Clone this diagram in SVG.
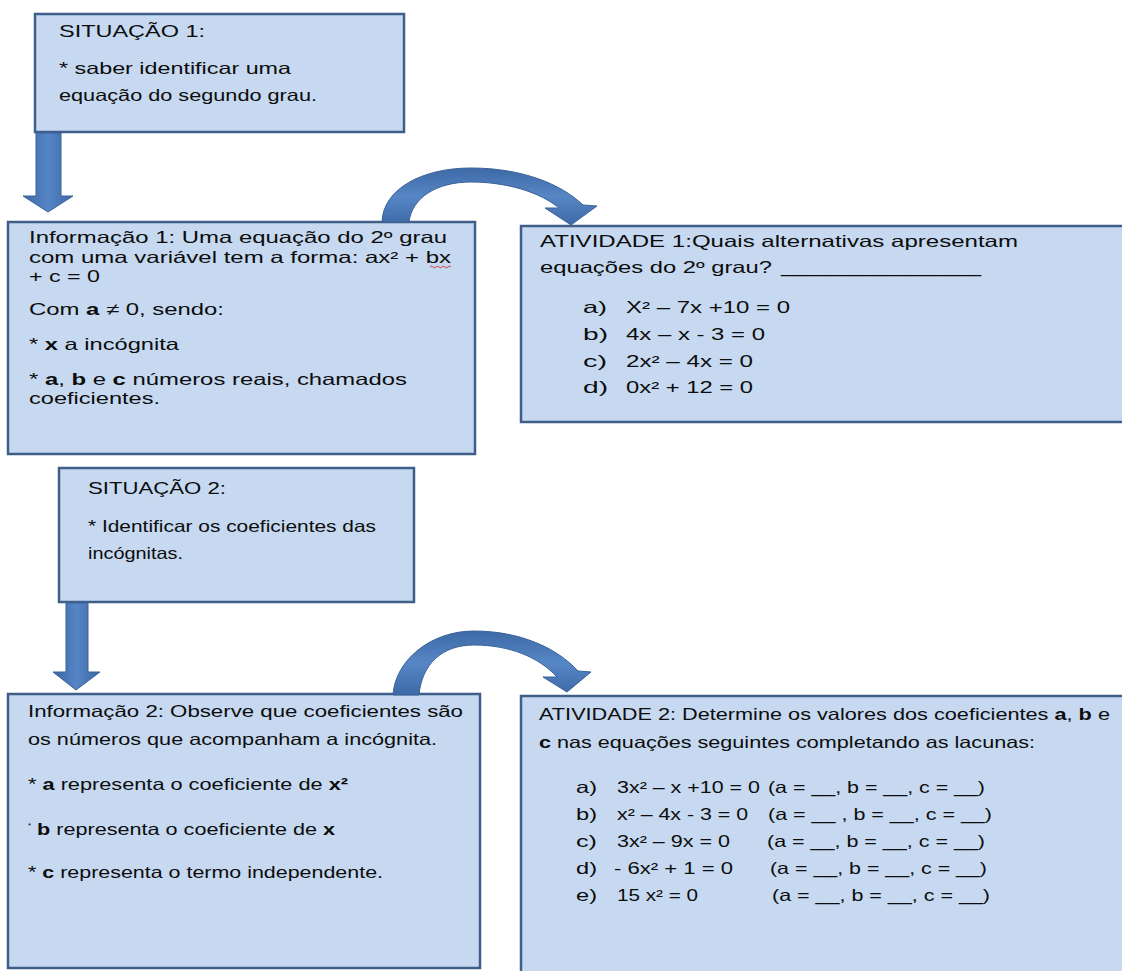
<svg xmlns="http://www.w3.org/2000/svg" width="1122" height="971" viewBox="0 0 1122 971">
<defs>
<linearGradient id="gh" x1="0" y1="0" x2="1" y2="0">
<stop offset="0" stop-color="#3b67a3"/>
<stop offset="0.5" stop-color="#5685c6"/>
<stop offset="1" stop-color="#3b67a3"/>
</linearGradient>
<linearGradient id="gv" x1="0" y1="0" x2="0" y2="1">
<stop offset="0" stop-color="#3d6aa6"/>
<stop offset="0.5" stop-color="#5786c6"/>
<stop offset="1" stop-color="#3d6aa6"/>
</linearGradient>
<style>
.box{fill:#c6d9f1;stroke:#3f5f8a;stroke-width:2.5}
.t{font-family:"Liberation Sans",Arial,sans-serif;font-size:16.5px;fill:#0d0d0d}
.b{font-weight:bold}
.ad{fill:url(#gh);stroke:#3a6299;stroke-width:1}
.ac{fill:url(#gv);stroke:#3a6299;stroke-width:1}
</style>
</defs>
<rect width="1122" height="971" fill="#ffffff"/>

<g id="situacao1">
<rect class="box" x="35" y="14" width="369" height="118"/>
<text class="t" x="59" y="37" textLength="146" lengthAdjust="spacingAndGlyphs">SITUAÇÃO 1:</text>
<text class="t" x="59" y="74" textLength="232" lengthAdjust="spacingAndGlyphs">* saber identificar uma</text>
<text class="t" x="59" y="101" textLength="258" lengthAdjust="spacingAndGlyphs">equação do segundo grau.</text>
</g>

<g id="informacao1">
<rect class="box" x="8" y="222" width="467" height="232"/>
<text class="t" x="29" y="243" textLength="418" lengthAdjust="spacingAndGlyphs">Informação 1: Uma equação do 2º grau</text>
<text class="t" x="29" y="263" textLength="422" lengthAdjust="spacingAndGlyphs">com uma variável tem a forma: ax² + bx</text>
<path d="M430,267 q1.5,-1.6 3,0 t3,0 t3,0 t3,0 t3,0 t3,0 t3,0" fill="none" stroke="#d03030" stroke-width="0.9"/>
<text class="t" x="29" y="282" textLength="71" lengthAdjust="spacingAndGlyphs">+ c = 0</text>
<text class="t" x="29" y="315" textLength="195" lengthAdjust="spacingAndGlyphs">Com <tspan class="b">a</tspan> ≠ 0, sendo:</text>
<text class="t" x="29" y="350" textLength="150" lengthAdjust="spacingAndGlyphs">* <tspan class="b">x</tspan> a incógnita</text>
<text class="t" x="29" y="385" textLength="378" lengthAdjust="spacingAndGlyphs">* <tspan class="b">a</tspan>, <tspan class="b">b</tspan> e <tspan class="b">c</tspan> números reais, chamados</text>
<text class="t" x="29" y="404" textLength="131" lengthAdjust="spacingAndGlyphs">coeficientes.</text>
</g>

<g id="atividade1">
<rect class="box" x="521" y="226" width="620" height="196"/>
<text class="t" x="540" y="247" textLength="478" lengthAdjust="spacingAndGlyphs">ATIVIDADE 1:Quais alternativas apresentam</text>
<text class="t" x="540" y="273" textLength="232" lengthAdjust="spacingAndGlyphs">equações do 2º grau?</text>
<text class="t" x="781" y="273" textLength="200" lengthAdjust="spacingAndGlyphs">_________________</text>
<text class="t" x="583" y="313" textLength="24" lengthAdjust="spacingAndGlyphs">a)</text>
<text class="t" x="626" y="313" textLength="164" lengthAdjust="spacingAndGlyphs">X² – 7x +10 = 0</text>
<text class="t" x="583" y="340" textLength="25" lengthAdjust="spacingAndGlyphs">b)</text>
<text class="t" x="626" y="340" textLength="139" lengthAdjust="spacingAndGlyphs">4x – x - 3 = 0</text>
<text class="t" x="583" y="367" textLength="24" lengthAdjust="spacingAndGlyphs">c)</text>
<text class="t" x="626" y="367" textLength="127" lengthAdjust="spacingAndGlyphs">2x² – 4x = 0</text>
<text class="t" x="583" y="393" textLength="25" lengthAdjust="spacingAndGlyphs">d)</text>
<text class="t" x="626" y="393" textLength="127" lengthAdjust="spacingAndGlyphs">0x² + 12 = 0</text>
</g>

<g id="situacao2">
<rect class="box" x="59" y="468" width="355" height="134"/>
<text class="t" x="88" y="494" textLength="138" lengthAdjust="spacingAndGlyphs">SITUAÇÃO 2:</text>
<text class="t" x="88" y="532" textLength="288" lengthAdjust="spacingAndGlyphs">* Identificar os coeficientes das</text>
<text class="t" x="88" y="559" textLength="95" lengthAdjust="spacingAndGlyphs">incógnitas.</text>
</g>

<g id="informacao2">
<rect class="box" x="8" y="694" width="472" height="274"/>
<text class="t" x="28" y="717" textLength="435" lengthAdjust="spacingAndGlyphs">Informação 2: Observe que coeficientes são</text>
<text class="t" x="28" y="745" textLength="409" lengthAdjust="spacingAndGlyphs">os números que acompanham a incógnita.</text>
<text class="t" x="28" y="790" textLength="320" lengthAdjust="spacingAndGlyphs">* <tspan class="b">a</tspan> representa o coeficiente de <tspan class="b">x²</tspan></text>
<text class="t" x="28" y="828" style="font-size:8px">*</text>
<text class="t" x="37" y="835" textLength="298" lengthAdjust="spacingAndGlyphs"><tspan class="b">b</tspan> representa o coeficiente de <tspan class="b">x</tspan></text>
<text class="t" x="28" y="878" textLength="355" lengthAdjust="spacingAndGlyphs">* <tspan class="b">c</tspan> representa o termo independente.</text>
</g>

<g id="atividade2">
<rect class="box" x="521" y="696" width="620" height="290"/>
<text class="t" x="539" y="720" textLength="571" lengthAdjust="spacingAndGlyphs">ATIVIDADE 2: Determine os valores dos coeficientes <tspan class="b">a</tspan>, <tspan class="b">b</tspan> e</text>
<text class="t" x="539" y="748" textLength="496" lengthAdjust="spacingAndGlyphs"><tspan class="b">c</tspan> nas equações seguintes completando as lacunas:</text>
<text class="t" x="576" y="793" textLength="21" lengthAdjust="spacingAndGlyphs">a)</text>
<text class="t" x="617" y="793" textLength="143" lengthAdjust="spacingAndGlyphs">3x² – x +10 = 0</text>
<text class="t" x="768" y="793" textLength="217" lengthAdjust="spacingAndGlyphs">(a = __, b = __, c = __)</text>
<text class="t" x="576" y="820" textLength="21" lengthAdjust="spacingAndGlyphs">b)</text>
<text class="t" x="617" y="820" textLength="131" lengthAdjust="spacingAndGlyphs">x² – 4x - 3 = 0</text>
<text class="t" x="768" y="820" textLength="224" lengthAdjust="spacingAndGlyphs">(a = __ , b = __, c = __)</text>
<text class="t" x="576" y="847" textLength="21" lengthAdjust="spacingAndGlyphs">c)</text>
<text class="t" x="617" y="847" textLength="113" lengthAdjust="spacingAndGlyphs">3x² – 9x = 0</text>
<text class="t" x="767" y="847" textLength="218" lengthAdjust="spacingAndGlyphs">(a = __, b = __, c = __)</text>
<text class="t" x="576" y="874" textLength="21" lengthAdjust="spacingAndGlyphs">d)</text>
<text class="t" x="614" y="874" textLength="119" lengthAdjust="spacingAndGlyphs">- 6x² + 1 = 0</text>
<text class="t" x="770" y="874" textLength="217" lengthAdjust="spacingAndGlyphs">(a = __, b = __, c = __)</text>
<text class="t" x="576" y="901" textLength="21" lengthAdjust="spacingAndGlyphs">e)</text>
<text class="t" x="617" y="901" textLength="81" lengthAdjust="spacingAndGlyphs">15 x² = 0</text>
<text class="t" x="772" y="901" textLength="218" lengthAdjust="spacingAndGlyphs">(a = __, b = __, c = __)</text>
</g>

<g id="connectors">
<polygon class="ad" points="36,133 61,133 61,196 73,196 48,212 23,196 36,196"/>
<path class="ac" d="M382,222 C383,189 422,168 471,168 C522,168 561,184 583,205 L597,206 L571,225 L545,208 L559,208 C540,192 506,182 471,182 C436,182 412,198 409,222 Z"/>
<polygon class="ad" points="66,603 88,603 88,672 100,672 76,690 53,672 66,672"/>
<path class="ac" d="M393,695 C395,661 430,631 474,631 C520,631 557,648 578,671 L591,672 L567,692 L543,677 L557,677 C539,657 509,645 474,645 C442,645 422,664 419,695 Z"/>
</g>
</svg>
